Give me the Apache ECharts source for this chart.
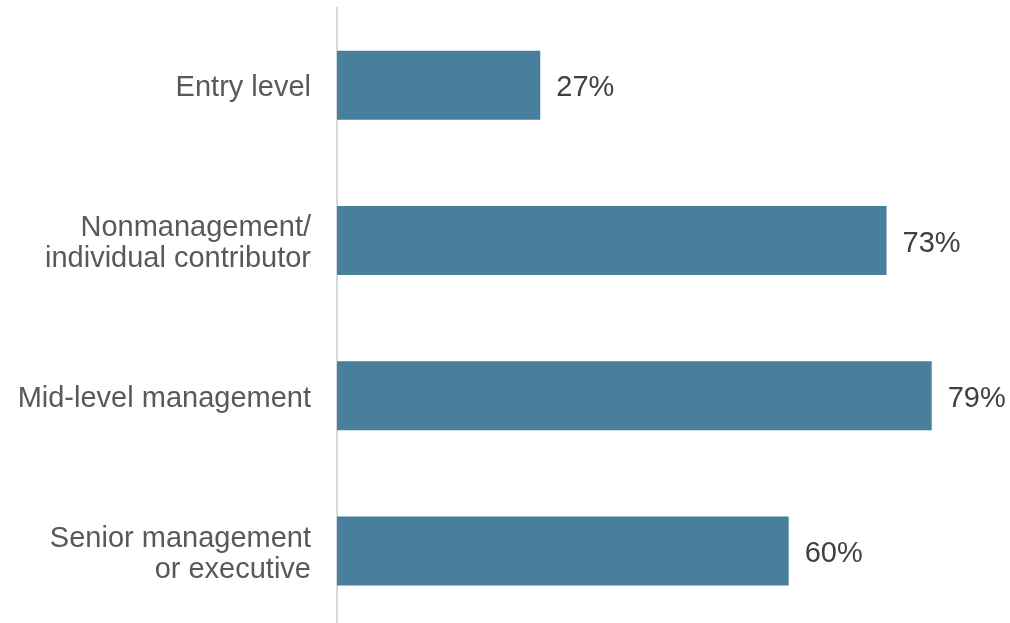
<!DOCTYPE html>
<html>
<head>
<meta charset="utf-8">
<script src="https://cdn.jsdelivr.net/npm/echarts@6/dist/echarts.min.js"></script>
<style>
  html, body { margin: 0; padding: 0; background: #ffffff; overflow: hidden; }
  #chart { width: 1010px; height: 630px; }
</style>
</head>
<body>
<div id="chart"></div>
<script>
// Job levels, listed top to bottom
const categories = [
  'Entry level',
  'Nonmanagement/\nindividual contributor',
  'Mid-level management',
  'Senior management\nor executive'
];
// Share of respondents (%)
const values = [27, 73, 79, 60];

const FONT = 'Liberation Sans, Arial, sans-serif';

const chart = echarts.init(document.getElementById('chart'));
chart.setOption({
  animation: false,
  // the value axis runs past the right edge; 89.4% lands on the canvas border
  grid: { left: 337, top: 7.7, right: 0, height: 621, containLabel: false },
  xAxis: {
    type: 'value',
    min: 0,
    max: 89.4,
    show: false
  },
  yAxis: {
    type: 'category',
    data: categories,
    inverse: true,
    axisLine: { show: true, lineStyle: { color: '#d9d9d9', width: 2 } },
    axisTick: { show: false },
    axisLabel: {
      margin: 26,
      align: 'right',
      // each line is wrapped in a rich token so the block sits slightly low
      formatter: (v) => v.split('\n').map((s) => '{t|' + s + '}').join('\n'),
      rich: {
        t: {
          color: '#595959',
          fontFamily: FONT,
          fontSize: 29,
          lineHeight: 31,
          padding: [6, 0, 0, 0],
          align: 'right'
        }
      }
    }
  },
  series: [{
    type: 'bar',
    data: values,
    barWidth: 69,
    itemStyle: { color: '#477f9d' },
    label: {
      show: true,
      position: 'right',
      distance: 16,
      offset: [0, 3],
      formatter: '{c}%',
      color: '#404040',
      fontFamily: FONT,
      fontSize: 29
    }
  }]
});
</script>
</body>
</html>
